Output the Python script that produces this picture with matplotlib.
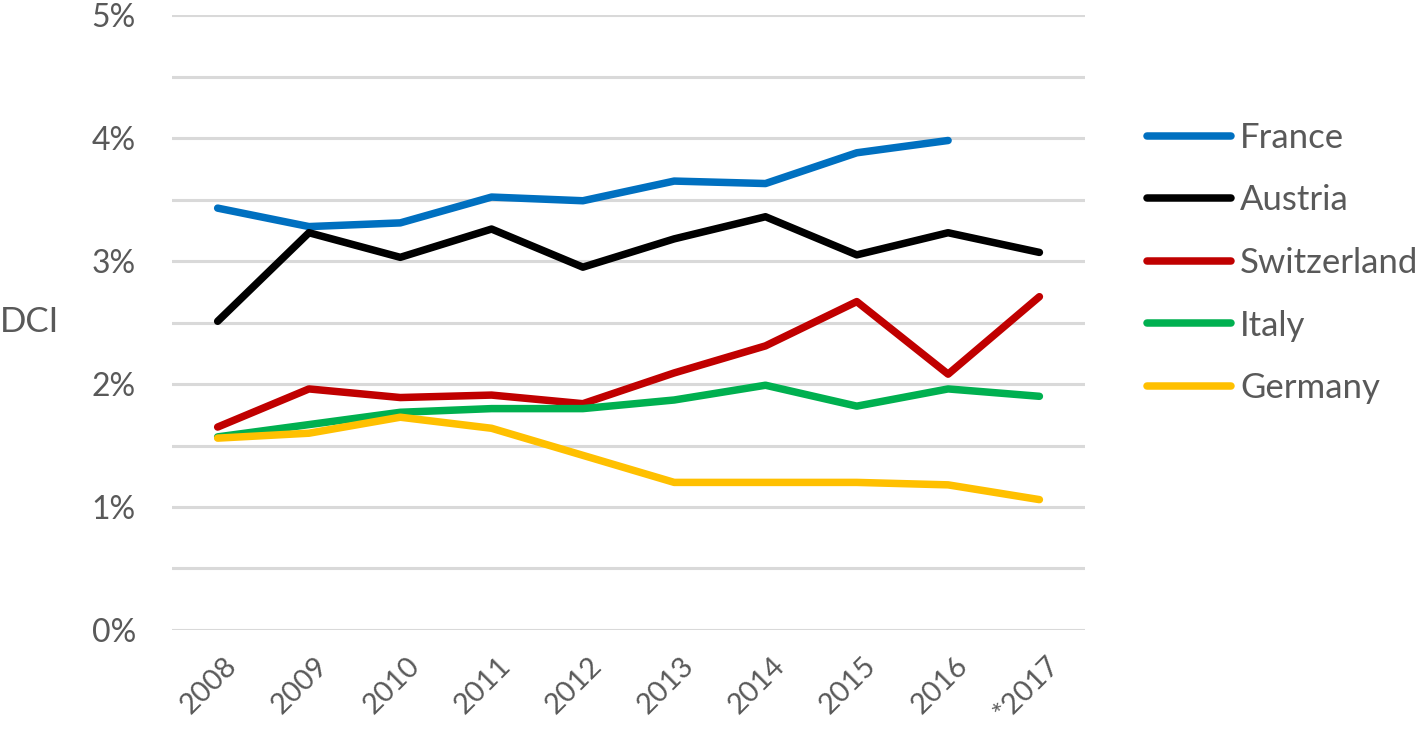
import numpy as np
import matplotlib.pyplot as plt
import matplotlib.transforms as mtrans

years = ['2008', '2009', '2010', '2011', '2012', '2013', '2014', '2015', '2016', '*2017']
france = [3.43, 3.28, 3.31, 3.52, 3.49, 3.65, 3.63, 3.88, 3.98, np.nan]
austria = [2.51, 3.23, 3.03, 3.26, 2.95, 3.18, 3.36, 3.05, 3.23, 3.07]
switzerland = [1.65, 1.96, 1.89, 1.91, 1.84, 2.09, 2.31, 2.67, 2.08, 2.71]
italy = [1.57, 1.67, 1.77, 1.80, 1.80, 1.87, 1.99, 1.82, 1.96, 1.90]
germany = [1.56, 1.60, 1.73, 1.64, 1.42, 1.20, 1.20, 1.20, 1.18, 1.06]

series = [('France', france, '#0070C0'),
          ('Austria', austria, '#000000'),
          ('Switzerland', switzerland, '#C00000'),
          ('Italy', italy, '#00B050'),
          ('Germany', germany, '#FFC000')]

plt.rcParams['font.family'] = ['Lato', 'DejaVu Sans']
txt = '#595959'

fig = plt.figure(figsize=(14.18, 7.37), dpi=100)
ax = fig.add_axes([0.1213, 0.1452, 0.6439, 0.8344])

x = np.arange(len(years))
for name, vals, col in series:
    ax.plot(x, vals, color=col, lw=5.4, label=name, solid_capstyle='round', solid_joinstyle='round')

ax.set_xlim(-0.5, len(years) - 0.5)
ax.set_ylim(0, 5)
yt = np.arange(0, 5.01, 0.5)
ax.set_yticks(yt)
ax.set_yticklabels(['%d%%' % v if v == int(v) else '' for v in yt])
ax.grid(axis='y', color='#d9d9d9', lw=2.2)
ax.set_axisbelow(True)
for s in ax.spines.values():
    s.set_visible(False)
ax.tick_params(length=0, colors=txt)
ax.tick_params(axis='y', labelsize=23, pad=26)
ax.tick_params(axis='x', labelsize=21, pad=16)
ax.set_xticks(x)
ax.set_xticklabels(years, rotation=45, ha='right', rotation_mode='anchor')
# nudge year labels a bit right, like the original
shift = mtrans.ScaledTranslation(6 / 100, 0, fig.dpi_scale_trans)
for lbl in ax.get_xticklabels():
    lbl.set_transform(lbl.get_transform() + shift)
fig.text(0.0, 0.563, 'DCI', fontsize=25, color=txt, ha='left', va='center')

leg = fig.legend(loc='upper left', bbox_to_anchor=(0.787, 0.877), frameon=False,
                 fontsize=25, labelcolor=txt, handlelength=2.4, handletextpad=0.28,
                 labelspacing=0.88)
for h in leg.get_lines():
    h.set_linewidth(5.4)
    h.set_solid_capstyle('round')

fig.savefig('out.png', dpi=100)
